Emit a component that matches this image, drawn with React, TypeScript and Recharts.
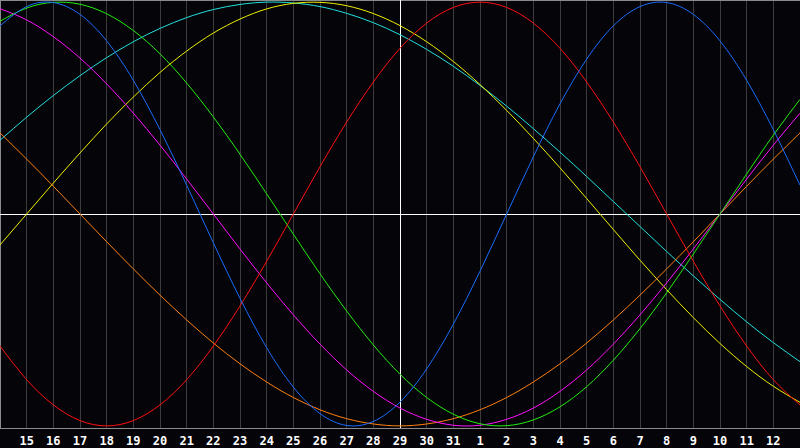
import React from 'react';
import { LineChart, Line, XAxis, YAxis, CartesianGrid, ReferenceLine } from 'recharts';

// calendar days along the bottom (first and last sit on the chart edges)
const days = [14, 15, 16, 17, 18, 19, 20, 21, 22, 23, 24, 25, 26, 27, 28, 29, 30, 31, 1, 2, 3, 4, 5, 6, 7, 8, 9, 10, 11, 12, 13];

// cycle values, -100..100
const physical = [88.8, 97.9, 99.8, 94.2, 81.7, 63.1, 39.8, 13.6, -13.6, -39.8, -63.1, -81.7, -94.2, -99.8, -97.9, -88.8, -73.1, -52.0, -27.0, 0, 27.0, 52.0, 73.1, 88.8, 97.9, 99.8, 94.2, 81.7, 63.1, 39.8, 13.6];
const emotional = [-62.3, -78.2, -90.1, -97.5, -100, -97.5, -90.1, -78.2, -62.3, -43.4, -22.3, 0, 22.3, 43.4, 62.3, 78.2, 90.1, 97.5, 100, 97.5, 90.1, 78.2, 62.3, 43.4, 22.3, 0, -22.3, -43.4, -62.3, -78.2, -90.1];
const intellectual = [91.0, 97.2, 99.9, 99.0, 94.5, 86.6, 75.6, 61.8, 45.8, 28.2, 9.5, -9.5, -28.2, -45.8, -61.8, -75.6, -86.6, -94.5, -99.0, -99.9, -97.2, -91.0, -81.5, -69.0, -54.1, -37.2, -18.9, 0, 18.9, 37.2, 54.1];
const intuitive = [96.9, 91.6, 83.7, 73.6, 61.4, 47.6, 32.5, 16.5, 0, -16.5, -32.5, -47.6, -61.4, -73.6, -83.7, -91.6, -96.9, -99.7, -99.7, -96.9, -91.6, -83.7, -73.6, -61.4, -47.6, -32.5, -16.5, 0, 16.5, 32.5, 47.6];
const aesthetic = [-14.6, 0, 14.6, 28.8, 42.5, 55.2, 66.8, 76.9, 85.4, 92.0, 96.8, 99.4, 99.9, 98.3, 94.6, 88.9, 81.3, 72.0, 61.1, 48.9, 35.7, 21.8, 7.3, -7.3, -21.8, -35.7, -48.9, -61.1, -72.0, -81.3, -88.9];
const awareness = [38.3, 25.9, 13.1, 0, -13.1, -25.9, -38.3, -50.0, -60.9, -70.7, -79.3, -86.6, -92.4, -96.6, -99.1, -100, -99.1, -96.6, -92.4, -86.6, -79.3, -70.7, -60.9, -50.0, -38.3, -25.9, -13.1, 0, 13.1, 25.9, 38.3];
const spiritual = [34.8, 45.7, 55.9, 65.3, 73.8, 81.3, 87.6, 92.7, 96.5, 98.9, 100.0, 99.6, 97.9, 94.7, 90.3, 84.6, 77.7, 69.7, 60.7, 50.9, 40.3, 29.2, 17.7, 5.9, -5.9, -17.7, -29.2, -40.3, -50.9, -60.7, -69.7];

const data = days.map((day, i) => ({
  i,
  day,
  physical: physical[i],
  emotional: emotional[i],
  intellectual: intellectual[i],
  intuitive: intuitive[i],
  aesthetic: aesthetic[i],
  awareness: awareness[i],
  spiritual: spiritual[i],
}));

const tickIdx = days.map((_, i) => i).slice(1, -1);

const series = [
  { key: 'spiritual', color: '#22e0e0' },
  { key: 'aesthetic', color: '#f0f000' },
  { key: 'awareness', color: '#ff8010' },
  { key: 'intuitive', color: '#ff10ff' },
  { key: 'intellectual', color: '#22ee10' },
  { key: 'emotional', color: '#ff1010' },
  { key: 'physical', color: '#1a6cff' },
];

export default function App() {
  return (
    <div style={{ width: 800, height: 448, background: '#050408' }}>
      <style>{`body{margin:0;background:#050408;}`}</style>
      <LineChart width={800} height={448} data={data} margin={{ top: 0, right: 0, bottom: 0, left: 0 }}>
        <CartesianGrid vertical horizontal={false} stroke="#3c3c3c" shapeRendering="crispEdges" />
        <XAxis
          dataKey="i"
          type="number"
          domain={[0, 30]}
          ticks={tickIdx}
          interval={0}
          height={20}
          tickLine={false}
          axisLine={{ stroke: '#8a8a8a', shapeRendering: 'crispEdges' }}
          tick={{ fill: '#ffffff', fontSize: 12, fontWeight: 'bold', fontFamily: 'DejaVu Sans Mono' }}
          tickFormatter={(v) => String(days[v])}
        />
        <YAxis hide domain={[-101, 101]} />
        <ReferenceLine y={101} stroke="#8a8a8a" strokeWidth={2} />
        <ReferenceLine x={0} stroke="#8a8a8a" strokeWidth={2} />
        <ReferenceLine y={0} stroke="#ffffff" strokeWidth={1} shapeRendering="crispEdges" />
        <ReferenceLine x={15} stroke="#ffffff" strokeWidth={1} shapeRendering="crispEdges" />
        {series.map((s) => (
          <Line
            key={s.key}
            type="natural"
            dataKey={s.key}
            stroke={s.color}
            strokeWidth={1}
            dot={false}
            activeDot={false}
            isAnimationActive={false}
          />
        ))}
      </LineChart>
    </div>
  );
}
